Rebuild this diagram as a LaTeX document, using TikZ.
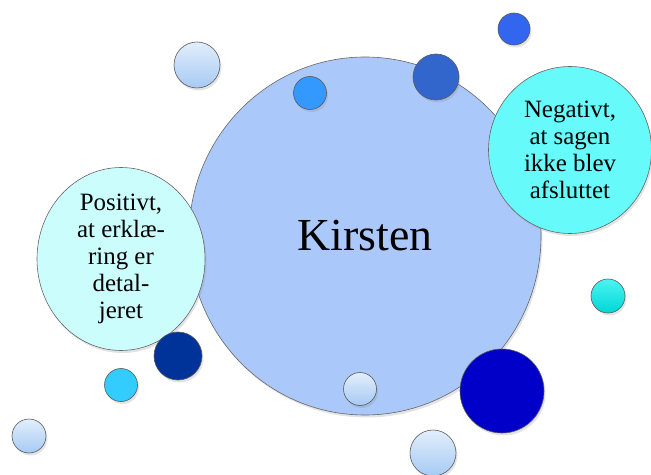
\documentclass[tikz,border=0pt]{standalone}
\usepackage{fontspec}
\setmainfont{Liberation Serif}
\usetikzlibrary{shapes.geometric,shadows}
\definecolor{bigblue}{HTML}{ABC8FB}
\definecolor{negcyan}{HTML}{66FAFA}
\definecolor{poscyan}{HTML}{CCFDFD}
\definecolor{paletop}{HTML}{E2EEFB}
\definecolor{palebot}{HTML}{A6CAF4}
\definecolor{dodger}{HTML}{3399FF}
\definecolor{royal}{HTML}{3366CC}
\definecolor{brightblue}{HTML}{3366EE}
\definecolor{navy}{HTML}{003399}
\definecolor{sky}{HTML}{33CCFF}
\definecolor{deepblue}{HTML}{0000C8}
\definecolor{smallcyan}{HTML}{00EEEE}
\begin{document}
\begin{tikzpicture}[x=1bp,y=-1bp,
  bubble/.style={circle,draw=black!65,line width=0.6bp,inner sep=0pt,
    drop shadow={opacity=0.22,shadow xshift=1.5bp,shadow yshift=-2.5bp}},
  textbubble/.style={ellipse,draw=black!60,line width=0.6bp,inner sep=0pt,align=center,
    font=\fontsize{25}{27}\selectfont,
    drop shadow={opacity=0.22,shadow xshift=1.5bp,shadow yshift=-2.5bp}},
  pale/.style={top color=paletop,bottom color=palebot}]
\useasboundingbox (0,0) rectangle (651,475);
% main bubble
\node[textbubble,fill=bigblue,minimum width=352bp,minimum height=358bp,
  font=\fontsize{46}{50}\selectfont] (kirsten) at (365,236) {Kirsten};
\node[textbubble,fill=negcyan,minimum width=163bp,minimum height=167bp] (neg) at (570,150)
  {Negativt,\\at sagen\\ikke blev\\afsluttet};
\node[textbubble,fill=poscyan,minimum width=168bp,minimum height=154bp] (pos) at (121,259)
  {Positivt,\\at erklæ-\\ring er\\detal-\\jeret};
% small bubbles
\node[bubble,pale,minimum size=46bp] (b1) at (197,65) {};
\node[bubble,fill=brightblue,minimum size=32bp] (b2) at (514,29) {};
\node[bubble,fill=dodger,minimum size=33bp] (b3) at (310,93) {};
\node[bubble,fill=royal,minimum size=46bp] (b4) at (436,77) {};
\node[bubble,top color=smallcyan!70!white,bottom color=smallcyan!90!black,minimum size=34bp] (b5) at (608,296) {};
\node[bubble,fill=navy,minimum size=48bp] (b6) at (178,356) {};
\node[bubble,fill=sky,minimum size=33bp] (b7) at (121,385) {};
\node[bubble,pale,minimum size=34bp] (b8) at (29,436) {};
\node[bubble,pale,minimum size=33bp] (b9) at (360,389) {};
\node[bubble,fill=deepblue,minimum size=84bp] (b10) at (502,391) {};
\node[bubble,pale,minimum size=46bp] (b11) at (433,453) {};
\end{tikzpicture}
\end{document}
